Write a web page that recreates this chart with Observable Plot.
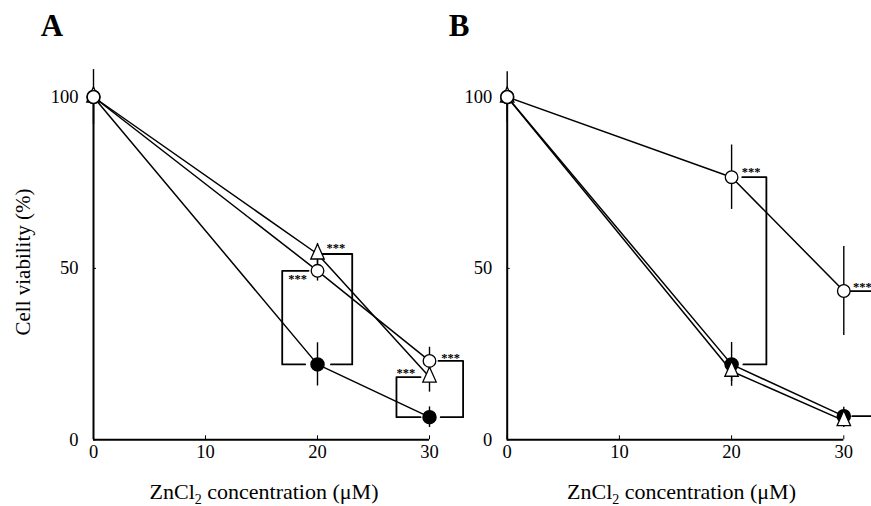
<!DOCTYPE html>
<html><head><meta charset="utf-8">
<script src="https://cdn.jsdelivr.net/npm/d3@7"></script>
<script src="https://cdn.jsdelivr.net/npm/@observablehq/plot@0.6"></script>
<style>
body{margin:0;background:#fff;overflow:hidden}
#fig{position:relative;width:871px;height:506px;overflow:hidden;background:#fff}
#fig svg{position:absolute;top:0;overflow:visible;max-width:none}
</style></head><body><div id="fig"></div>
<script>
// ---- data ----
const doses = [0, 20, 30];
const xTicks = [0, 10, 20, 30];
const yTicks = [0, 50, 100];
const panels = ["A", "B"];
const seriesNames = ["open circle", "open triangle", "filled circle"];
const yTitle = "Cell viability (%)";

const A_open = [100, 49.3, 23.0];
const A_open_sd = [8, 3, 4];
const A_tri = [100, 54.2, 18.3];
const A_tri_sd = [0, 3, 4.4];
const A_filled = [100, 22.0, 6.6];
const A_filled_sd = [0, 6.3, 3];

const B_open = [100, 76.6, 43.4];
const B_open_sd = [7.4, 9.4, 13];
const B_tri = [100, 20.0, 5.6];
const B_tri_sd = [0, 3, 2];
const B_filled = [100, 22.0, 6.9];
const B_filled_sd = [0, 6.4, 2.6];

// significance brackets: which pair of series is compared at which dose
const sigDose = [20, 20, 30, 30, 20, 30];
const sigPanel = ["A", "A", "A", "A", "B", "B"];
const sigTop = ["open circle", "open triangle", "open triangle", "open circle", "open circle", "open circle"];
const sigBottom = ["filled circle", "filled circle", "filled circle", "filled circle", "filled circle", "filled circle"];
const sigLabel = ["***", "***", "***", "***", "***", "***"];

// ---- build tables ----
const values = {
  A: {"open circle": [A_open, A_open_sd], "open triangle": [A_tri, A_tri_sd], "filled circle": [A_filled, A_filled_sd]},
  B: {"open circle": [B_open, B_open_sd], "open triangle": [B_tri, B_tri_sd], "filled circle": [B_filled, B_filled_sd]}
};
const rows = [];
for (const p of panels) for (const s of seriesNames) doses.forEach((d, i) => {
  rows.push({panel: p, series: s, dose: d, value: values[p][s][0][i], sd: values[p][s][1][i]});
});
const valueAt = (p, s, d) => values[p][s][0][doses.indexOf(d)];

// bracket geometry (layout only): side offset, inner ends, star placement
const bracketLayout = [
  {side: -3.15, inTop: -0.8, inBot: -1.1, sx: "corner", sdx: 6, sdy: 8, anchor: "start"},
  {side: 3.1, inTop: 0.4, inBot: 1.2, sx: "corner", sdx: -7, sdy: -6, anchor: "end"},
  {side: -2.95, inTop: -0.8, inBot: -0.8, sx: "corner", sdx: 0, sdy: -4, anchor: "start"},
  {side: 3.0, inTop: 0.8, inBot: 1.0, sx: "corner", sdx: -3, sdy: -3, anchor: "end"},
  {side: 3.1, inTop: 0.95, inBot: 1.05, sx: "corner", sdx: -6, sdy: -5, anchor: "end"},
  {side: 3.4, inTop: 0.55, inBot: 0.75, sx: "inner", sdx: 3, sdy: -4, anchor: "start"}
];
const brackets = sigDose.map((d, i) => {
  const L = bracketLayout[i];
  const yT = valueAt(sigPanel[i], sigTop[i], d), yB = valueAt(sigPanel[i], sigBottom[i], d);
  return {
    panel: sigPanel[i], id: i, label: sigLabel[i], L,
    pts: [[d + L.inTop, yT], [d + L.side, yT], [d + L.side, yB], [d + L.inBot, yB]],
    star: {x: L.sx === "corner" ? d + L.side : d + L.inTop, y: yT}
  };
});

const font = "'Liberation Serif', 'Times New Roman', serif";
const triSymbol = {
  draw(ctx, size) {
    const r = Math.sqrt(size / Math.PI);
    const h = r * 2.15, w = r * 0.96;
    ctx.moveTo(0, -2 * h / 3);
    ctx.lineTo(w, h / 3);
    ctx.lineTo(-w, h / 3);
    ctx.closePath();
  }
};

const layouts = {
  A: {left: 0, width: 436, marginLeft: 93, marginRight: 7},
  B: {left: 436, width: 435, marginLeft: 70.7, marginRight: 27.7}
};

const fig = document.getElementById("fig");

for (const p of panels) {
  const lay = layouts[p];
  const data = rows.filter(r => r.panel === p);
  const br = brackets.filter(b => b.panel === p);
  const brPts = br.flatMap(b => b.pts.map(([x, y]) => ({id: b.id, x, y})));
  const marks = [
    Plot.ruleX([0], {y1: 0, y2: 100, strokeWidth: 2}),
    Plot.ruleY([0], {x1: 0, x2: 30, strokeWidth: 2}),
    Plot.axisX({ticks: xTicks, tickSize: -4, tickPadding: 9, label: null, fontSize: 18.5, tickFormat: d => d}),
    Plot.axisY({ticks: yTicks, tickSize: -3, tickPadding: 18, label: null, fontSize: 18.5, tickFormat: d => d}),
    Plot.line(brPts, {x: "x", y: "y", z: "id", stroke: "black", strokeWidth: 1.8}),
    Plot.text(br, {x: b => b.star.x, y: b => b.star.y, text: "label", fontSize: 12.5, fontWeight: "bold", fill: "black"}),
    Plot.line(data, {x: "dose", y: "value", z: "series", stroke: "black", strokeWidth: 1.5}),
    Plot.ruleX(data.filter(d => d.sd > 0), {x: "dose", y1: d => d.value - d.sd, y2: d => d.value + d.sd, strokeWidth: 1.4}),
    Plot.dot(data.filter(d => d.series === "filled circle"), {x: "dose", y: "value", r: 6.5, fill: "black", stroke: "black"}),
    Plot.dot(data.filter(d => d.series === "open triangle"), {x: "dose", y: "value", r: 7, symbol: triSymbol, fill: "white", stroke: "black", strokeWidth: 1.3}),
    Plot.dot(data.filter(d => d.series === "open circle"), {x: "dose", y: "value", r: 6.3, fill: "white", stroke: "black", strokeWidth: 1.3})
  ];
  const svg = Plot.plot({
    width: lay.width, height: 506,
    marginLeft: lay.marginLeft, marginRight: lay.marginRight,
    marginTop: 96.5, marginBottom: 66.7,
    style: {fontFamily: font, background: "transparent", overflow: "visible"},
    x: {domain: [0, 30], axis: null},
    y: {domain: [0, 100], axis: null},
    marks
  });
  svg.style.left = lay.left + "px";
  fig.appendChild(svg);

  const s = d3.select(svg);
  // per-bracket star placement applied after render
  s.selectAll("g[aria-label='text'] text").each(function(_, i) {
    const L = br[i].L;
    d3.select(this).attr("text-anchor", L.anchor)
      .attr("transform", (this.getAttribute("transform") || "") + ` translate(${L.sdx},${L.sdy})`);
  });

  // panel letter
  s.append("text").attr("x", p === "A" ? 52 : 23).attr("y", 36)
    .attr("font-family", font).attr("font-size", 31).attr("font-weight", "bold").text(p);
  // x title with subscript
  const xt = s.append("text").attr("x", p === "A" ? 264 : 245.5).attr("y", 499)
    .attr("text-anchor", "middle").attr("font-family", font).attr("font-size", 22);
  xt.append("tspan").text("ZnCl");
  xt.append("tspan").attr("font-size", 14).attr("dy", 5).text("2");
  xt.append("tspan").attr("dy", -5).text(" concentration (μM)");
  if (p === "A") {
    s.append("text").attr("transform", "translate(30,262) rotate(-90)")
      .attr("text-anchor", "middle").attr("font-family", font).attr("font-size", 21).text(yTitle);
  }
}
</script></body></html>
